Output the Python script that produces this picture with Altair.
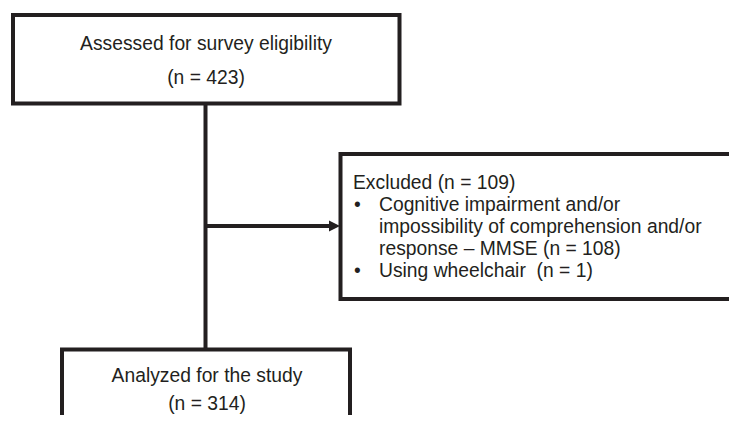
import altair as alt
import pandas as pd

# ---- content ----
top_lines = ["Assessed for survey eligibility", "(n = 423)"]
excluded_title = "Excluded (n = 109)"
excluded_items = [
    ["Cognitive impairment and/or",
     "impossibility of comprehension and/or",
     "response \u2013 MMSE (n = 108)"],
    ["Using wheelchair\u00a0 (n = 1)"],
]
bottom_lines = ["Analyzed for the study", "(n = 314)"]

# ---- layout (page pixel coordinates) ----
INK = "#231f20"
FONT = "Liberation Sans"
FS = 19.3
LW = 4

boxes = pd.DataFrame({
    "x": [13, 340.5, 62], "x2": [399.5, 790, 350],
    "y": [15, 154, 349.5], "y2": [103.5, 299, 480],
})
vlines = pd.DataFrame({"x": [205.5], "y": [103.5], "y2": [349.5]})
hlines = pd.DataFrame({"x": [205.5], "x2": [333], "y": [226]})
arrow = pd.DataFrame({"x": [334.5], "y": [226]})

center_rows = []
for i, t in enumerate(top_lines):
    center_rows.append({"x": 206, "y": 50 + i * 34, "t": t})
for i, t in enumerate(bottom_lines):
    center_rows.append({"x": 207, "y": 382 + i * 28, "t": t})
center_text = pd.DataFrame(center_rows)

left_rows = [{"x": 353, "y": 189, "t": excluded_title}]
bullet_rows = []
line = 1
for item in excluded_items:
    bullet_rows.append({"x": 354, "y": 189 + line * 22, "t": "\u2022"})
    for t in item:
        left_rows.append({"x": 379, "y": 189 + line * 22, "t": t})
        line += 1
left_text = pd.DataFrame(left_rows + bullet_rows)

xs = alt.Scale(domain=[8, 729], nice=False, zero=False)
ys = alt.Scale(domain=[8, 415], nice=False, zero=False, reverse=True)

def X(f="x"):
    return alt.X(f, type="quantitative", scale=xs, axis=None)

def Y(f="y"):
    return alt.Y(f, type="quantitative", scale=ys, axis=None)

rects = alt.Chart(boxes).mark_rect(
    fill="white", stroke=INK, strokeWidth=LW, clip=True
).encode(x=X(), x2="x2", y=Y(), y2="y2")

vr = alt.Chart(vlines).mark_rule(color=INK, strokeWidth=LW).encode(
    x=X(), y=Y(), y2="y2")
hr = alt.Chart(hlines).mark_rule(color=INK, strokeWidth=LW).encode(
    x=X(), x2="x2", y=Y())
head = alt.Chart(arrow).mark_point(
    shape="M-1,-1L1,0L-1,1Z", filled=True, color=INK, opacity=1, size=121
).encode(x=X(), y=Y())

ct = alt.Chart(center_text).mark_text(
    align="center", baseline="alphabetic", font=FONT, fontSize=FS, color=INK
).encode(x=X(), y=Y(), text="t")
lt = alt.Chart(left_text).mark_text(
    align="left", baseline="alphabetic", font=FONT, fontSize=FS, color=INK
).encode(x=X(), y=Y(), text="t")

chart = alt.layer(vr, hr, rects, head, ct, lt).properties(
    width=721, height=407, padding=0,
    autosize=alt.AutoSizeParams(type="none"),
    background="white",
).configure_view(stroke=None)

chart.save("out.html", embed_options={"renderer": "svg", "actions": False})
